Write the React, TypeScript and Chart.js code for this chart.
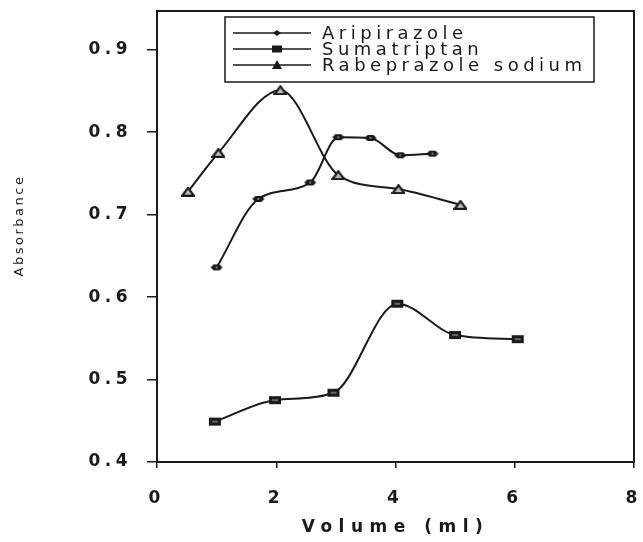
import React, { useEffect, useRef } from "react";
import { Chart, registerables } from "chart.js";

Chart.register(...registerables);

const seriesNames = ["Aripirazole", "Sumatriptan", "Rabeprazole sodium"];

const aripiprazoleX = [1.0, 1.7, 2.57, 3.04, 3.58, 4.08, 4.62];
const aripiprazoleY = [0.636, 0.719, 0.739, 0.794, 0.793, 0.772, 0.774];

const sumatriptanX = [0.97, 1.98, 2.96, 4.03, 5.0, 6.05];
const sumatriptanY = [0.449, 0.475, 0.484, 0.592, 0.554, 0.549];

const rabeprazoleX = [0.52, 1.03, 2.07, 3.04, 4.05, 5.09];
const rabeprazoleY = [0.728, 0.775, 0.851, 0.748, 0.731, 0.712];

const xTicks = [0, 2, 4, 6, 8];
const yTicks = [0.4, 0.5, 0.6, 0.7, 0.8, 0.9];

const xTitle = "Volume (ml)";
const yTitle = "Absorbance";

const INK = "#1a1a1a";
const FONT = "'DejaVu Sans', sans-serif";

function pts(xs: number[], ys: number[]) {
  return xs.map((x, i) => ({ x, y: ys[i] }));
}

function makeMarker(kind: string): HTMLCanvasElement {
  const c = document.createElement("canvas");
  const w = 14;
  const h = 10;
  c.width = w;
  c.height = h;
  const g = c.getContext("2d")!;
  g.fillStyle = INK;
  g.strokeStyle = INK;
  if (kind === "diamond") {
    g.beginPath();
    g.moveTo(1, h / 2);
    g.lineTo(4, 2);
    g.lineTo(10, 2);
    g.lineTo(13, h / 2);
    g.lineTo(10, 8);
    g.lineTo(4, 8);
    g.closePath();
    g.fill();
    g.fillStyle = "#777";
    g.fillRect(6, 4, 2, 2);
  } else if (kind === "rect") {
    g.fillRect(1, 1, 12, 8);
    g.fillStyle = "#666";
    g.fillRect(4, 4, 6, 2);
  } else {
    g.lineWidth = 2.2;
    g.beginPath();
    g.moveTo(7, 1.2);
    g.lineTo(12.8, 9);
    g.lineTo(1.2, 9);
    g.closePath();
    g.fillStyle = "#bbb";
    g.fill();
    g.stroke();
  }
  return c;
}

function patchSpacing(scale: any, labelSpacing: string, titleSpacing: string, titleShiftY: number) {
  if (scale.__patched) return;
  scale.__patched = true;
  const dl = scale.drawLabels;
  scale.drawLabels = function (ca: any) {
    const c = this.ctx as any;
    const prev = c.letterSpacing;
    c.letterSpacing = labelSpacing;
    dl.call(this, ca);
    c.letterSpacing = prev;
  };
  const dt = scale.drawTitle;
  scale.drawTitle = function (...args: any[]) {
    const c = this.ctx as any;
    const prev = c.letterSpacing;
    c.save();
    c.translate(0, titleShiftY);
    c.letterSpacing = titleSpacing;
    dt.apply(this, args);
    c.restore();
    c.letterSpacing = prev;
  };
}

const framePlugin = {
  id: "frame",
  afterDatasetsDraw(chart: any) {
    const { ctx, chartArea: a } = chart;
    ctx.save();
    ctx.strokeStyle = INK;
    ctx.lineWidth = 2;
    ctx.strokeRect(a.left, a.top, a.right - a.left, a.bottom - a.top);
    ctx.restore();
  },
};

const legendPlugin = {
  id: "boxLegend",
  afterDraw(chart: any) {
    const { ctx } = chart;
    const a = chart.chartArea;
    const left = a.left + 68;
    const top = a.top + 6;
    const w = 369;
    const h = 65;
    ctx.save();
    ctx.fillStyle = "#ffffff";
    ctx.fillRect(left, top, w, h);
    ctx.strokeStyle = INK;
    ctx.lineWidth = 1.5;
    ctx.strokeRect(left, top, w, h);
    ctx.font = `18px ${FONT}`;
    (ctx as any).letterSpacing = "4.5px";
    ctx.textBaseline = "middle";
    ctx.textAlign = "left";
    chart.data.datasets.forEach((ds: any, i: number) => {
      const y = top + 16 + i * 16;
      ctx.strokeStyle = INK;
      ctx.lineWidth = 1.5;
      ctx.beginPath();
      ctx.moveTo(left + 8, y);
      ctx.lineTo(left + 86, y);
      ctx.stroke();
      const cx = left + 52;
      ctx.fillStyle = INK;
      ctx.beginPath();
      if (i === 1) {
        ctx.fillRect(cx - 5, y - 3.5, 10, 7);
      } else if (i === 2) {
        ctx.moveTo(cx, y - 5);
        ctx.lineTo(cx + 5, y + 4);
        ctx.lineTo(cx - 5, y + 4);
        ctx.closePath();
        ctx.fill();
      } else {
        ctx.moveTo(cx, y - 3);
        ctx.lineTo(cx + 4, y);
        ctx.lineTo(cx, y + 3);
        ctx.lineTo(cx - 4, y);
        ctx.closePath();
        ctx.fill();
      }
      ctx.fillStyle = INK;
      ctx.fillText(ds.label, left + 97, y + 1);
    });
    ctx.restore();
  },
};

export default function App() {
  const ref = useRef<HTMLCanvasElement | null>(null);

  useEffect(() => {
    if (!ref.current) return;
    const common = {
      borderColor: INK,
      backgroundColor: INK,
      borderWidth: 2,
      pointRadius: 6,
      cubicInterpolationMode: "monotone" as const,
      tension: 0.4,
    };
    const chart = new Chart(ref.current, {
      type: "line",
      data: {
        datasets: [
          {
            ...common,
            label: seriesNames[0],
            data: pts(aripiprazoleX, aripiprazoleY),
            pointStyle: makeMarker("diamond") as any,
          },
          {
            ...common,
            label: seriesNames[1],
            data: pts(sumatriptanX, sumatriptanY),
            pointStyle: makeMarker("rect") as any,
          },
          {
            ...common,
            label: seriesNames[2],
            data: pts(rabeprazoleX, rabeprazoleY),
            pointStyle: makeMarker("triangle") as any,
          },
        ],
      },
      options: {
        animation: false,
        responsive: true,
        maintainAspectRatio: false,
        layout: { padding: { top: 11, right: 9, left: 0, bottom: 0 } },
        plugins: {
          legend: { display: false },
          tooltip: { enabled: false },
        },
        scales: {
          x: {
            type: "linear",
            min: 0,
            max: 8,
            afterFit(scale: any) {
              scale.height = 80;
              scale.paddingLeft = 0;
              scale.paddingRight = 0;
              scale.paddingTop = 0;
              scale.paddingBottom = 0;
              patchSpacing(scale, "5px", "6.5px", 0);
            },
            afterBuildTicks(scale: any) {
              scale.ticks = xTicks.map((v) => ({ value: v }));
            },
            grid: {
              drawOnChartArea: false,
              drawTicks: true,
              tickLength: 6,
              color: INK,
              lineWidth: 1.5,
            },
            border: { display: true, color: INK, width: 2 },
            ticks: {
              color: INK,
              padding: 20,
              font: { family: FONT, size: 17, weight: "bold" },
              maxRotation: 0,
              callback: (v: any) => String(v),
            },
            title: {
              display: true,
              text: xTitle,
              color: INK,
              font: { family: FONT, size: 17, weight: "bold" },
              padding: { top: 0, bottom: 4 },
            },
          },
          y: {
            type: "linear",
            min: 0.4,
            max: 0.947,
            afterFit(scale: any) {
              scale.width = 157;
              scale.paddingLeft = 0;
              scale.paddingRight = 0;
              scale.paddingTop = 0;
              scale.paddingBottom = 0;
              patchSpacing(scale, "4.5px", "2.5px", -11);
            },
            afterBuildTicks(scale: any) {
              scale.ticks = yTicks.map((v) => ({ value: v }));
            },
            grid: {
              drawOnChartArea: false,
              drawTicks: true,
              tickLength: 10,
              color: INK,
              lineWidth: 1.5,
            },
            border: { display: true, color: INK, width: 2 },
            ticks: {
              color: INK,
              padding: 15,
              font: { family: FONT, size: 17, weight: "bold" },
              callback: (v: any) => Number(v).toFixed(1),
            },
            title: {
              display: true,
              text: yTitle,
              color: INK,
              font: { family: FONT, size: 13 },
              padding: { top: 12, bottom: 0 },
            },
          },
        },
      },
      plugins: [framePlugin, legendPlugin],
    });
    return () => chart.destroy();
  }, []);

  return (
    <div
      style={{
        position: "fixed",
        left: 0,
        top: 0,
        width: 643,
        height: 542,
        background: "#ffffff",
      }}
    >
      <canvas ref={ref} />
    </div>
  );
}
